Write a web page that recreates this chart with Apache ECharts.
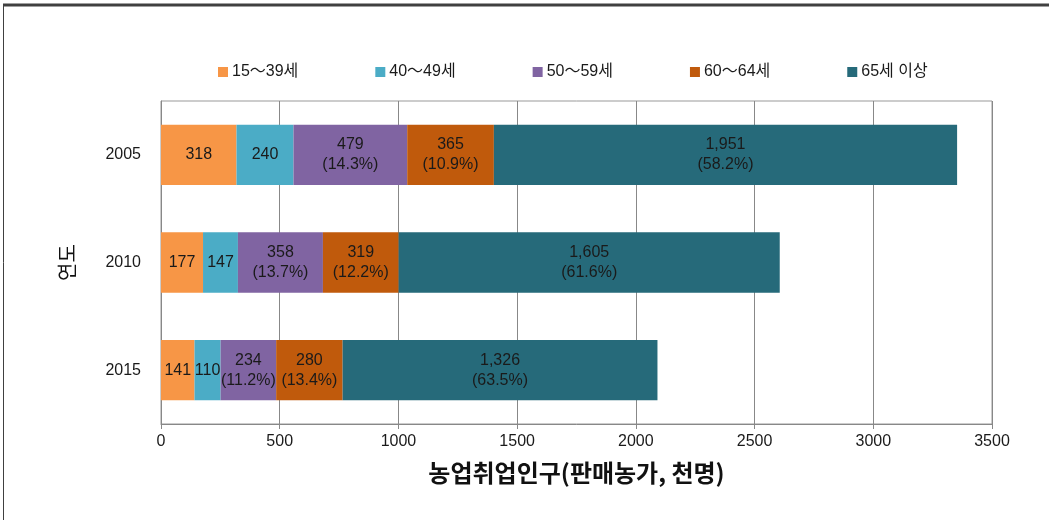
<!DOCTYPE html>
<html>
<head>
<meta charset="utf-8">
<script src="https://cdn.jsdelivr.net/npm/echarts@6/dist/echarts.min.js"></script>
<style>
  html, body { margin: 0; padding: 0; background: #fff; }
  #chart { width: 1049px; height: 520px; }
</style>
</head>
<body>
<div id="chart"></div>
<script>
// 연도별 연령대 농업취업인구 (판매농가, 천명)
const years = ['2005', '2010', '2015'];
const ageGroups = ['15～39세', '40～49세', '50～59세', '60～64세', '65세 이상'];
const age15to39 = [318, 177, 141];
const age40to49 = [240, 147, 110];
const age50to59 = [479, 358, 234];
const age60to64 = [365, 319, 280];
const age65plus = [1951, 1605, 1326];
// 구성비(%) — 15~49세 구간은 표시하지 않음
const share50to59 = ['14.3', '13.7', '11.2'];
const share60to64 = ['10.9', '12.2', '13.4'];
const share65plus = ['58.2', '61.6', '63.5'];
const xTicks = [0, 500, 1000, 1500, 2000, 2500, 3000, 3500];

const colors = ['#F79646', '#4BACC6', '#8064A2', '#C05A0C', '#266A7A'];
const seriesValues = [age15to39, age40to49, age50to59, age60to64, age65plus];
const seriesShares = [null, null, share50to59, share60to64, share65plus];

const FONT = '"Liberation Sans", "Noto Sans CJK KR", sans-serif';
const KFONT = '"Noto Sans CJK KR", sans-serif';

const chart = echarts.init(document.getElementById('chart'), null, { renderer: 'canvas' });

const series = ageGroups.map((name, i) => ({
  name: name,
  type: 'bar',
  stack: 'total',
  barWidth: '56%',
  data: seriesValues[i],
  itemStyle: { color: colors[i] },
  label: {
    show: true,
    position: 'inside',
    color: '#1a1a1a',
    fontFamily: FONT,
    fontSize: 16,
    lineHeight: 20,
    formatter: function (p) {
      const v = p.value.toLocaleString('en-US');
      const s = seriesShares[i];
      return s ? v + '\n(' + s[p.dataIndex] + '%)' : v;
    }
  }
}));

chart.setOption({
  animation: false,
  backgroundColor: '#ffffff',
  textStyle: { fontFamily: FONT },
  legend: {
    top: 59,
    left: 213,
    itemGap: 77,
    itemWidth: 10,
    itemHeight: 10,
    icon: 'rect',
    textStyle: { fontSize: 16, color: '#1a1a1a', fontFamily: FONT, padding: [0, 0, 0, -1] },
    data: ageGroups
  },
  grid: {
    left: 161,
    right: 57,
    top: 101,
    bottom: 96,
    show: true,
    borderColor: '#999999',
    borderWidth: 1
  },
  xAxis: {
    type: 'value',
    min: xTicks[0],
    max: xTicks[xTicks.length - 1],
    interval: xTicks[1] - xTicks[0],
    name: '농업취업인구(판매농가, 천명)',
    nameLocation: 'middle',
    nameGap: 37,
    nameTextStyle: { fontSize: 24, fontWeight: 'bold', color: '#111', fontFamily: KFONT },
    axisLine: { show: true, lineStyle: { color: '#888888' } },
    axisTick: { show: true, length: 5, lineStyle: { color: '#888888' } },
    axisLabel: { fontSize: 16, color: '#1a1a1a', margin: 10, formatter: v => String(v) },
    splitLine: { show: true, lineStyle: { color: '#888888', width: 1 } }
  },
  yAxis: {
    type: 'category',
    data: years,
    inverse: true,
    name: '연도',
    nameLocation: 'middle',
    nameGap: 84,
    nameRotate: 90,
    nameTextStyle: { fontSize: 20, color: '#111', fontFamily: KFONT },
    axisLine: { show: true, lineStyle: { color: '#888888' } },
    axisTick: { show: false },
    axisLabel: { fontSize: 16, color: '#1a1a1a', margin: 20 }
  },
  graphic: [
    { type: 'line', shape: { x1: 3, y1: 5, x2: 1049, y2: 5 }, style: { stroke: '#404040', lineWidth: 3 }, silent: true },
    { type: 'line', shape: { x1: 3.5, y1: 5, x2: 3.5, y2: 520 }, style: { stroke: '#404040', lineWidth: 1 }, silent: true }
  ],
  series: series
});
</script>
</body>
</html>
